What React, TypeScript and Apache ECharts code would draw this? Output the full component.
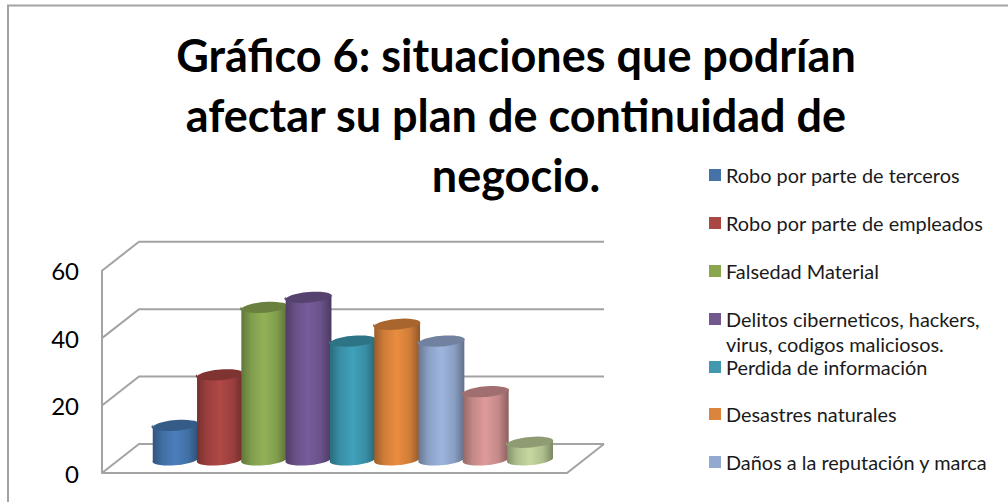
import React, { useEffect, useRef } from "react";
import * as echarts from "echarts";

const titleLines = [
  "Gráfico 6: situaciones que podrían",
  "afectar su plan de continuidad de",
  "negocio.",
];
const seriesNames = [
  "Robo por parte de terceros",
  "Robo por parte de empleados",
  "Falsedad Material",
  "Delitos ciberneticos, hackers, virus, codigos maliciosos.",
  "Perdida de información",
  "Desastres naturales",
  "Daños a la reputación y marca",
  "Serie 8",
  "Serie 9",
];
const seriesValues = [10, 25, 45, 48, 35, 40, 35, 20, 5];
const seriesColors = [
  "#4a7ebb", "#b04846", "#92b257", "#775c9a", "#40a1bb",
  "#ea8d40", "#9db5de", "#df9a9a", "#c6d9a0",
];
const legendColors = [
  "#4573a7", "#aa4644", "#89a54e", "#71588f", "#4198af", "#db843d", "#93a9cf",
];
const yTicks = [0, 20, 40, 60];

const FONT = "Lato";
const X_MIN = -1.245;
const X_MAX = 9.252;
const DEPTH_X = 37;
const DEPTH_Y = -29;
const RX = 22.9;
const RY = 5.6;
const TILT = 2;
const WALL = "#a3a3a3";
const legendTops = [176, 224, 272, 320, 368, 415, 463];

function shade(hex: string, f: number) {
  const n = parseInt(hex.slice(1), 16);
  const c = [(n >> 16) & 255, (n >> 8) & 255, n & 255].map((v) => Math.round(v * f));
  return `rgb(${c[0]},${c[1]},${c[2]})`;
}

function wallItem(params: any, api: any) {
  const v = api.value(0);
  const a = api.coord([X_MIN, v]);
  const b = api.coord([X_MAX, v]);
  const line = { stroke: WALL, lineWidth: 2, fill: "none" };
  const children: any[] = [
    {
      type: "polyline",
      shape: { points: [a, [a[0] + DEPTH_X, a[1] + DEPTH_Y], [b[0] + DEPTH_X, b[1] + DEPTH_Y]] },
      style: line,
    },
  ];
  if (v === 0) {
    children.push({
      type: "polyline",
      shape: { points: [a, b, [b[0] + DEPTH_X, b[1] + DEPTH_Y]] },
      style: line,
    });
  }
  return { type: "group", children };
}

function cylinderItem(color: string) {
  return (params: any, api: any) => {
    const base = api.coord([api.value(0), 0]);
    const top = api.coord([api.value(0), api.value(1)]);
    const cx = base[0] + DEPTH_X / 2;
    const by = base[1] + DEPTH_Y / 2;
    const ty = top[1] + DEPTH_Y / 2;
    const lx = cx - RX;
    const rx = cx + RX;
    const body =
      `M${lx} ${ty + TILT}L${lx} ${by + TILT}` +
      `A${RX} ${RY} -5 0 0 ${rx} ${by - TILT}L${rx} ${ty - TILT}` +
      `A${RX} ${RY} -5 0 1 ${lx} ${ty + TILT}Z`;
    const cap =
      `M${lx} ${ty + TILT}A${RX} ${RY} -5 0 1 ${rx} ${ty - TILT}` +
      `A${RX} ${RY} -5 0 1 ${lx} ${ty + TILT}Z`;
    const grad = new echarts.graphic.LinearGradient(0, 0, 1, 0, [
      { offset: 0, color: shade(color, 0.66) },
      { offset: 0.22, color: shade(color, 0.88) },
      { offset: 0.5, color: color },
      { offset: 0.78, color: shade(color, 0.88) },
      { offset: 1, color: shade(color, 0.62) },
    ]);
    return {
      type: "group",
      children: [
        { type: "path", shape: { pathData: body }, style: { fill: grad } },
        { type: "path", shape: { pathData: cap }, style: { fill: shade(color, 0.72) } },
      ],
    };
  };
}

export default function App() {
  const ref = useRef<HTMLDivElement>(null);
  useEffect(() => {
    document.body.style.margin = "0";
    const chart = echarts.init(ref.current!, null, { renderer: "svg" });
    const legendText = { fontFamily: FONT, fontSize: 19.9, lineHeight: 18, color: "#1a1a1a" };
    chart.setOption({
      animation: false,
      backgroundColor: "#ffffff",
      title: {
        text: titleLines.join("\n"),
        left: 511,
        top: 20,
        textAlign: "center",
        textStyle: {
          fontFamily: FONT,
          fontSize: 45,
          fontWeight: "bold",
          lineHeight: 60,
          color: "#000000",
        },
      },
      grid: { left: 102, top: 270.7, width: 465, height: 202.3 },
      xAxis: { type: "value", min: X_MIN, max: X_MAX, show: false },
      yAxis: {
        type: "value",
        min: 0,
        max: 60,
        interval: 20,
        axisLine: { show: true, onZero: false, lineStyle: { color: WALL, width: 2 } },
        axisTick: { show: false },
        splitLine: { show: false },
        axisLabel: {
          margin: 23,
          padding: [3, 0, 0, 0],
          fontFamily: FONT,
          fontSize: 24,
          color: "#000000",
        },
      },
      legend: legendTops.map((y, i) => ({
        orient: "vertical",
        left: 709,
        top: y - 11,
        padding: 0,
        itemWidth: 12,
        itemHeight: 12,
        selectedMode: false,
        formatter: (n: string) => (i === 3 ? "Delitos ciberneticos, hackers," : n),
        textStyle: legendText,
        data: [{ name: seriesNames[i], icon: "rect", itemStyle: { color: legendColors[i] } }],
      })),
      graphic: [
        {
          type: "rect",
          shape: { x: 8, y: 5.5, width: 1100, height: 600 },
          style: { fill: "none", stroke: "#a3a3a3", lineWidth: 2 },
          silent: true,
        },
        {
          type: "text",
          x: 726,
          y: 344,
          style: {
            text: "virus, codigos maliciosos.",
            fontFamily: FONT,
            fontSize: 19.9,
            lineHeight: 18,
            fill: "#1a1a1a",
            verticalAlign: "middle",
          },
        },
      ],
      series: [
        {
          type: "custom",
          name: "walls",
          silent: true,
          z: 1,
          data: yTicks.map((t) => [t]),
          encode: { y: 0 },
          renderItem: wallItem,
        },
        ...seriesNames.map((name, i) => ({
          type: "custom",
          name,
          silent: true,
          z: 2 + i,
          data: [[i, seriesValues[i]]],
          encode: { x: 0, y: 1 },
          renderItem: cylinderItem(seriesColors[i]),
        })),
      ],
    });
    return () => chart.dispose();
  }, []);
  return (
    <div
      ref={ref}
      style={{ position: "absolute", left: 0, top: 0, width: 1008, height: 502 }}
    />
  );
}
